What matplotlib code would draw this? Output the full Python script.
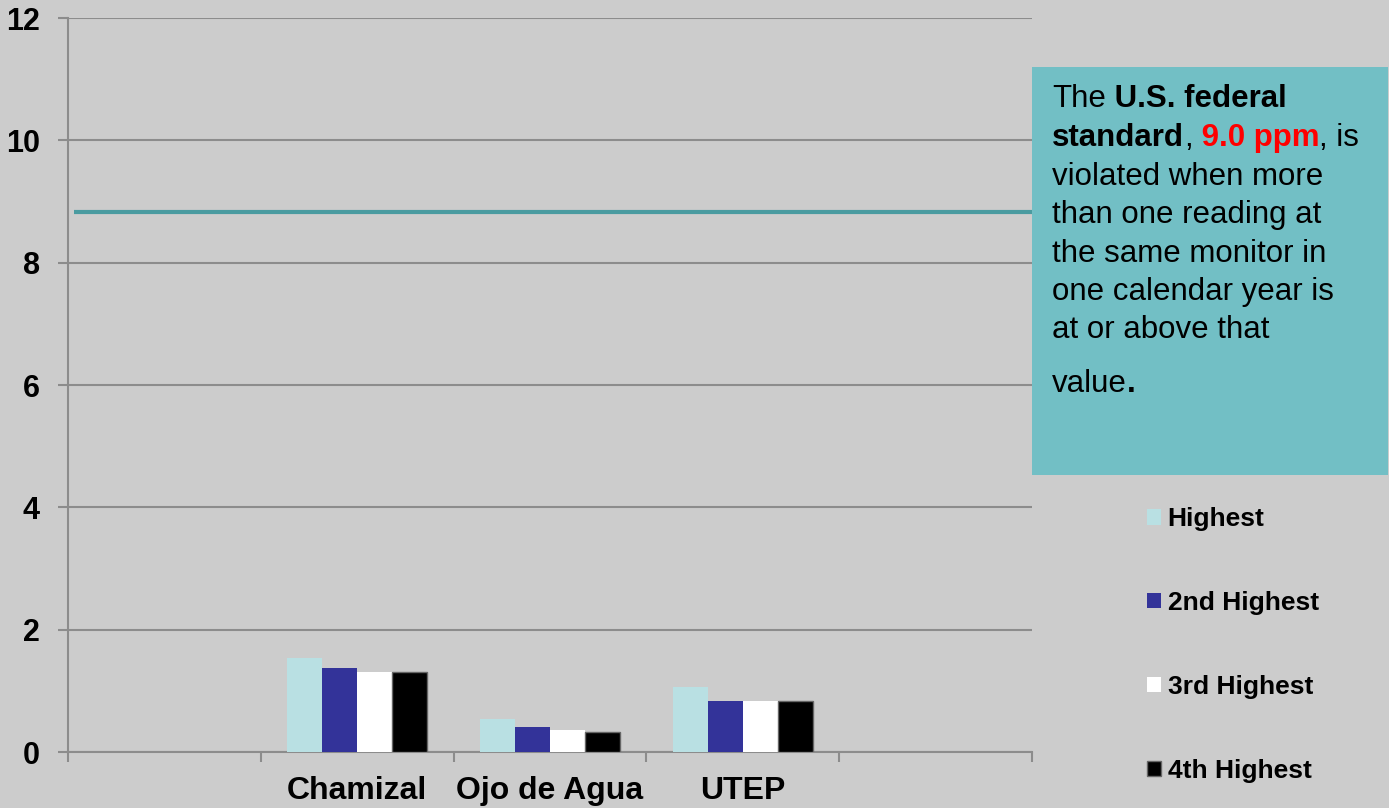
import matplotlib
matplotlib.use('Agg')
import matplotlib.pyplot as plt
from matplotlib.patches import Rectangle
import numpy as np

# chart data
categories = ['', 'Chamizal', 'Ojo de Agua', 'UTEP', '']
stations = ['Chamizal', 'Ojo de Agua', 'UTEP']
series_names = ['Highest', '2nd Highest', '3rd Highest', '4th Highest']
highest = [1.53, 0.54, 1.07]
second = [1.38, 0.41, 0.84]
third = [1.30, 0.36, 0.84]
fourth = [1.30, 0.33, 0.83]
standard_line = 8.83
yticks = [0, 2, 4, 6, 8, 10, 12]

plt.rcParams['font.family'] = ['Liberation Sans', 'DejaVu Sans']
W, H = 1389, 808
bg = '#cccccc'
grid_c = '#8c8c8c'
fig = plt.figure(figsize=(W / 100, H / 100), dpi=100, facecolor=bg)
ax = fig.add_axes([68 / W, 1 - 752 / H, (1032 - 68) / W, (752 - 18) / H])
ax.set_facecolor(bg)

x = np.array([categories.index(s) for s in stations])
w = 0.181
colors = ['#b9e0e3', '#333399', '#ffffff', '#000000']
bars = []
for i, vals in enumerate([highest, second, third, fourth]):
    c = colors[i]
    ec = '#666666' if i == 3 else 'none'
    b = ax.bar(x + (i - 1.5) * w, vals, w, color=c, edgecolor=ec, lw=1,
               label=series_names[i], zorder=3)
    bars.append(b)

# standard line
ax.plot([-0.469, 4.5], [standard_line, standard_line], color='#4a9ba0', lw=3,
        solid_capstyle='butt', zorder=4)

ax.set_xlim(-0.5, 4.5)
ax.set_ylim(0, 12)
ax.set_yticks(yticks)
ax.set_yticklabels([str(v) for v in yticks], fontsize=22, fontweight='bold')
ax.yaxis.grid(True, color=grid_c, lw=1.5)
ax.set_axisbelow(True)
ax.tick_params(axis='y', length=7.2, width=1.5, color=grid_c, pad=13)

ax.set_xticks(np.arange(-0.5, 5, 1))
ax.set_xticklabels([])
ax.set_xticks(np.arange(len(categories)), minor=True)
ax.set_xticklabels(categories, minor=True, fontsize=23, fontweight='bold')
ax.tick_params(axis='x', which='major', length=7.2, width=1.5, color=grid_c)
ax.tick_params(axis='x', which='minor', length=0, pad=17.5)

for s in ['top', 'right']:
    ax.spines[s].set_visible(False)
for s in ['left', 'bottom']:
    ax.spines[s].set_color(grid_c)
    ax.spines[s].set_linewidth(1.5)

ax.legend(loc='center left', bbox_to_anchor=(1147 / W, 1 - 645 / H),
          bbox_transform=fig.transFigure, frameon=False,
          prop={'size': 19, 'weight': 'bold'}, handlelength=0.53,
          handleheight=0.53, handletextpad=0.25, labelspacing=2.27,
          borderaxespad=0, borderpad=0)

# note box
fig.add_artist(Rectangle((1032 / W, 1 - 475 / H), (1388 - 1032) / W, (475 - 67) / H,
                         transform=fig.transFigure, facecolor='#72bfc5',
                         edgecolor='none', zorder=5))

renderer = fig.canvas.get_renderer()


def rich_line(parts, x0, y0):
    xp = x0
    for s, kw in parts:
        t = fig.text(xp / W, 1 - y0 / H, s, fontsize=22.5, va='baseline',
                     ha='left', zorder=6, **kw)
        xp += t.get_window_extent(renderer=renderer).width


bold = {'fontweight': 'bold'}
lines = [
    [('The', {}), (' U.S. federal', bold)],
    [('standard', bold), (',', {}), (' 9.0 ppm', {'fontweight': 'bold', 'color': '#ff0000'}), (', is', {})],
    [('violated when more', {})],
    [('than one reading at', {})],
    [('the same monitor in', {})],
    [('one calendar year is', {})],
    [('at or above that', {})],
    [('value', {}), ('.', bold)],
]
baselines = [107, 146, 185, 223, 262, 300, 338, 392]
for parts, yb in zip(lines, baselines):
    rich_line(parts, 1052, yb)

fig.savefig('out.png', dpi=100, facecolor=bg)
